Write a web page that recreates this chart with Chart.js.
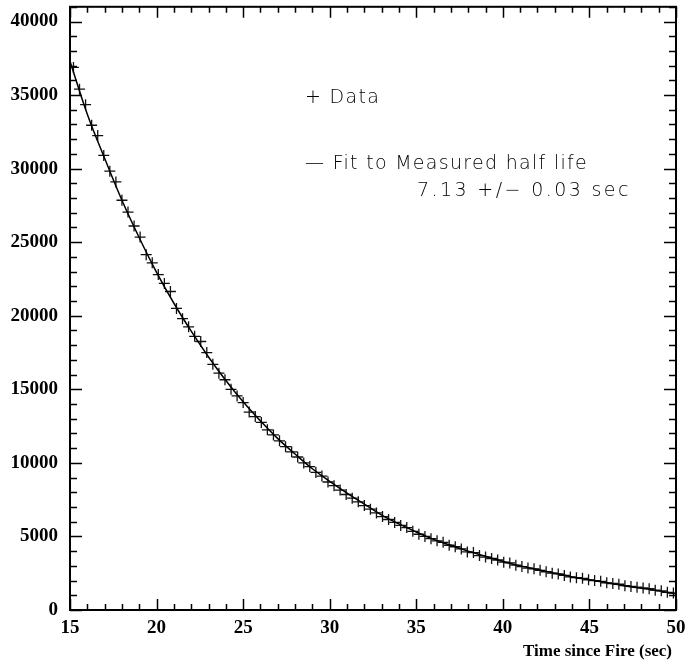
<!DOCTYPE html>
<html>
<head>
<meta charset="utf-8">
<script src="https://cdn.jsdelivr.net/npm/chart.js@4"></script>
<style>
  html, body { margin: 0; padding: 0; background: #fff; }
  #wrap { width: 686px; height: 664px; position: relative; }
</style>
</head>
<body>
<div id="wrap"><canvas id="decayChart"></canvas></div>
<script>
// measured counts ("+" markers)
const dataTimes = [15.2, 15.55, 15.9, 16.25, 16.6, 16.95, 17.3, 17.65, 18.0, 18.35,
    18.7, 19.05, 19.4, 19.75, 20.1, 20.45, 20.8, 21.15, 21.5, 21.85,
    22.2, 22.55, 22.9, 23.25, 23.6, 23.95, 24.3, 24.65, 25.0, 25.35,
    25.7, 26.05, 26.4, 26.75, 27.1, 27.45, 27.8, 28.15, 28.5, 28.85,
    29.2, 29.55, 29.9, 30.25, 30.6, 30.95, 31.3, 31.65, 32.0, 32.35,
    32.7, 33.05, 33.4, 33.75, 34.1, 34.45, 34.8, 35.15, 35.5, 35.85,
    36.2, 36.55, 36.9, 37.25, 37.6, 37.95, 38.3, 38.65, 39.0, 39.35,
    39.7, 40.05, 40.4, 40.75, 41.1, 41.45, 41.8, 42.15, 42.5, 42.85,
    43.2, 43.55, 43.9, 44.25, 44.6, 44.95, 45.3, 45.65, 46.0, 46.35,
    46.7, 47.05, 47.4, 47.75, 48.1, 48.45, 48.8, 49.15, 49.5, 49.85];
const dataCounts = [36880, 35400, 34350, 32950, 32250, 30900, 29830, 29100, 27850, 27050,
    26100, 25350, 24150, 23600, 22800, 22200, 21650, 20500, 19800, 19250,
    18600, 18250, 17500, 16700, 16100, 15650, 15000, 14550, 14100, 13450,
    13150, 12750, 12250, 11900, 11500, 11100, 10750, 10400, 10000, 9750,
    9350, 9100, 8700, 8450, 8150, 7850, 7600, 7350, 7100, 6850,
    6600, 6350, 6150, 5950, 5750, 5600, 5350, 5150, 5000, 4850,
    4700, 4600, 4400, 4300, 4150, 3950, 3900, 3700, 3600, 3500,
    3400, 3250, 3200, 3050, 2950, 2850, 2800, 2700, 2600, 2500,
    2450, 2350, 2250, 2200, 2150, 2050, 2000, 1950, 1850, 1800,
    1750, 1650, 1600, 1550, 1500, 1450, 1350, 1300, 1200, 1150];

// fitted curve
const fitTimes = [15, 16, 17, 18, 19, 20, 21, 22, 23, 24, 25, 26, 27, 28, 29, 30, 31, 32,
    33, 34, 35, 36, 37, 38, 39, 40, 41, 42, 43, 44, 45, 46, 47, 48, 49, 50];
const fitCounts = [37300, 33700, 30700, 27850, 25300, 22950, 20850, 18950, 17200, 15600,
    14150, 12850, 11650, 10600, 9600, 8750, 7950, 7200, 6450, 5850, 5300, 4800, 4400,
    4000, 3650, 3300, 3000, 2750, 2500, 2250, 2050, 1850, 1650, 1480, 1300, 1100];

const legendLines = [
    { text: '+ Data', x: 305, y: 103, spacing: '1.3px' },
    { text: '\u2014 Fit to Measured half life', x: 305, y: 169, spacing: '1.3px' },
    { text: '7.13 +/\u2212 0.03 sec', x: 417, y: 196, spacing: '2.4px' }
];
const xTitle = 'Time since Fire (sec)';

// inward ticks on all four sides plus the frame and the text block
const framePlugin = {
    id: 'frame',
    afterDraw(chart) {
        const ctx = chart.ctx;
        const a = chart.chartArea;
        const xs = chart.scales.x, ys = chart.scales.y;
        ctx.save();
        ctx.strokeStyle = '#000';
        ctx.lineWidth = 1.5;
        for (let v = 15; v <= 50; v++) {
            const px = Math.round(xs.getPixelForValue(v)) + 0.5;
            const len = v % 5 === 0 ? 11 : 6;
            ctx.beginPath();
            ctx.moveTo(px, a.bottom); ctx.lineTo(px, a.bottom - len);
            ctx.moveTo(px, a.top); ctx.lineTo(px, a.top + len);
            ctx.stroke();
        }
        for (let v = 0; v <= 41000; v += 1000) {
            const py = Math.round(ys.getPixelForValue(v)) + 0.5;
            const len = v % 5000 === 0 ? 12 : 7;
            ctx.beginPath();
            ctx.moveTo(a.left, py); ctx.lineTo(a.left + len, py);
            ctx.moveTo(a.right, py); ctx.lineTo(a.right - len, py);
            ctx.stroke();
        }
        ctx.lineWidth = 2;
        ctx.strokeRect(a.left, a.top, a.right - a.left, a.bottom - a.top);

        ctx.fillStyle = '#000';
        ctx.font = '200 19px "DejaVu Sans", sans-serif';
        ctx.textAlign = 'left';
        ctx.textBaseline = 'alphabetic';
        legendLines.forEach(l => {
            ctx.letterSpacing = l.spacing;
            ctx.fillText(l.text, l.x, l.y);
        });
        ctx.letterSpacing = '0px';

        ctx.font = 'bold 17px "Liberation Serif", "Times New Roman", serif';
        ctx.textAlign = 'right';
        ctx.fillText(xTitle, 672, 656);
        ctx.restore();
    }
};

const ctx = document.getElementById('decayChart').getContext('2d');
new Chart(ctx, {
    type: 'scatter',
    data: {
        datasets: [{
            label: 'Data',
            data: dataTimes.map((t, i) => ({ x: t, y: dataCounts[i] })),
            pointStyle: 'cross',
            pointRadius: 5.5,
            borderColor: '#111',
            borderWidth: 1.3,
            showLine: false,
            order: 2
        }, {
            label: 'Fit',
            data: fitTimes.map((t, i) => ({ x: t, y: fitCounts[i] })),
            showLine: true,
            pointRadius: 0,
            borderColor: '#000',
            borderWidth: 1.5,
            tension: 0.4,
            order: 1
        }]
    },
    options: {
        responsive: true,
        maintainAspectRatio: false,
        animation: false,
        layout: { padding: { top: 6, right: 10, left: 0, bottom: 0 } },
        plugins: { legend: { display: false }, tooltip: { enabled: false } },
        scales: {
            x: {
                type: 'linear',
                min: 15, max: 50,
                grid: { display: false, drawTicks: false },
                border: { display: false },
                ticks: {
                    stepSize: 1,
                    autoSkip: false,
                    maxRotation: 0,
                    padding: 7,
                    color: '#000',
                    font: { family: '"Liberation Serif", serif', size: 19, weight: 'bold' },
                    callback: v => (v % 5 === 0 ? String(v) : '')
                },
                afterFit: s => { s.height = 54; s.paddingLeft = 0; s.paddingRight = 0; }
            },
            y: {
                min: 0, max: 41000,
                grid: { display: false, drawTicks: false },
                border: { display: false },
                ticks: {
                    stepSize: 1000,
                    autoSkip: false,
                    padding: 12,
                    color: '#000',
                    font: { family: '"Liberation Serif", serif', size: 19, weight: 'bold' },
                    callback: v => (v % 5000 === 0 ? String(v) : '')
                },
                afterFit: s => { s.width = 70; s.paddingTop = 0; s.paddingBottom = 0; }
            }
        }
    },
    plugins: [framePlugin]
});
</script>
</body>
</html>
